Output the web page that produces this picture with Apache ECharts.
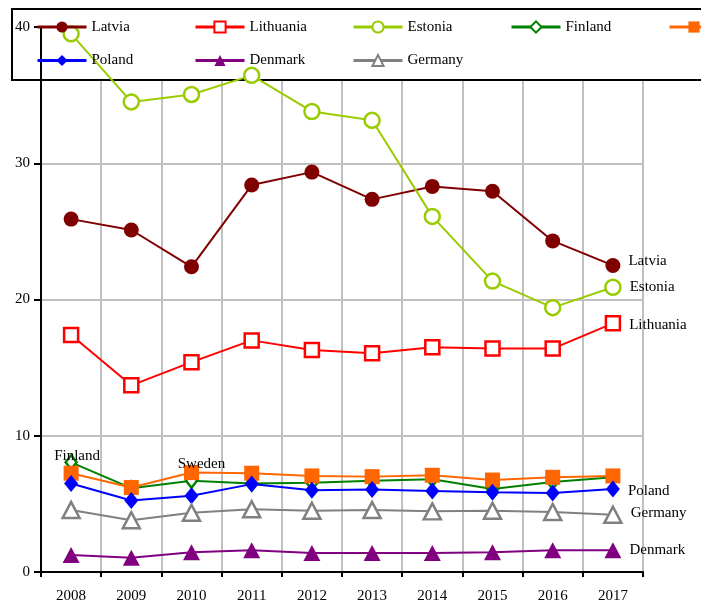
<!DOCTYPE html>
<html>
<head>
<meta charset="utf-8">
<script src="https://cdn.jsdelivr.net/npm/echarts@6/dist/echarts.min.js"></script>
<style>
html,body{margin:0;padding:0;background:#fff;}
#chart{width:701px;height:606px;}
</style>
</head>
<body>
<div id="chart"></div>
<script>
const categories = ['2008','2009','2010','2011','2012','2013','2014','2015','2016','2017'];
const yTicks = [0, 10, 20, 30, 40];
const seriesNames = ['Latvia','Lithuania','Estonia','Finland','Sweden','Poland','Denmark','Germany'];
const latvia    = [25.9, 25.1, 22.4, 28.4, 29.35, 27.35, 28.3, 27.95, 24.3, 22.5];
const lithuania = [17.4, 13.7, 15.4, 17.0, 16.3, 16.05, 16.5, 16.4, 16.4, 18.25];
const estonia   = [39.5, 34.5, 35.05, 36.45, 33.8, 33.15, 26.1, 21.35, 19.4, 20.9];
const finland   = [8.05, 6.15, 6.7, 6.5, 6.55, 6.7, 6.8, 6.1, 6.6, 6.95];
const sweden    = [7.25, 6.2, 7.3, 7.25, 7.05, 7.0, 7.1, 6.75, 6.95, 7.05];
const poland    = [6.5, 5.25, 5.6, 6.45, 6.0, 6.05, 5.95, 5.85, 5.8, 6.1];
const denmark   = [1.25, 1.05, 1.45, 1.6, 1.4, 1.4, 1.4, 1.45, 1.6, 1.6];
const germany   = [4.55, 3.8, 4.35, 4.6, 4.5, 4.55, 4.45, 4.5, 4.4, 4.2];

const FONT = "'Liberation Serif', 'Times New Roman', serif";
const last = categories.length - 1;

function endLabel(name, offset) {
  return {
    show: true, position: 'right', distance: 8, offset: offset || [0, 0],
    color: '#000', fontFamily: FONT, fontSize: 15,
    formatter: p => p.dataIndex === last ? name : ''
  };
}
function pointLabel(name, idx, offset) {
  return {
    show: true, position: 'inside', offset: offset,
    color: '#000', fontFamily: FONT, fontSize: 15,
    formatter: p => p.dataIndex === idx ? name : ''
  };
}

const seriesDefs = [
  {name:'Latvia', data: latvia, color:'#800000', symbol:'circle', size:15, fill:'#800000', label: endLabel('Latvia', [0,-4])},
  {name:'Lithuania', data: lithuania, color:'#ff0000', symbol:'rect', size:14, fill:'#ffffff', label: endLabel('Lithuania', [0,2])},
  {name:'Estonia', data: estonia, color:'#99cc00', symbol:'circle', size:15, fill:'#ffffff', label: endLabel('Estonia', [0,0])},
  {name:'Finland', data: finland, color:'#008000', symbol:'diamond', size:[11,14], fill:'#ffffff', label: pointLabel('Finland', 0, [6,-6])},
  {name:'Sweden', data: sweden, color:'#ff6600', symbol:'rect', size:15, fill:'#ff6600', label: pointLabel('Sweden', 2, [10,-8])},
  {name:'Poland', data: poland, color:'#0000ff', symbol:'diamond', size:[14,17], fill:'#0000ff', label: endLabel('Poland', [0,2])},
  {name:'Denmark', data: denmark, color:'#800080', symbol:'triangle', size:[17,16], fill:'#800080', label: endLabel('Denmark', [0,0])},
  {name:'Germany', data: germany, color:'#808080', symbol:'triangle', size:[17,16], fill:'#ffffff', label: endLabel('Germany', [0,-2])}
];

const legendCols = [36, 194, 352, 510, 668];
const legendRows = [19.5, 53];
const legends = seriesNames.map((n, i) => ({
  data: [n],
  left: legendCols[i < 5 ? i : i - 5],
  top: legendRows[i < 5 ? 0 : 1],
  padding: 0,
  itemWidth: 49,
  itemHeight: 14,
  selectedMode: false,
  lineStyle: {width: 3},
  textStyle: {fontFamily: FONT, fontSize: 15, color: '#000'}
}));

const chart = echarts.init(document.getElementById('chart'), null, {renderer: 'canvas'});
chart.setOption({
  animation: false,
  backgroundColor: '#ffffff',
  textStyle: {fontFamily: FONT},
  legend: legends,
  graphic: [{
    type: 'rect', z: 1,
    shape: {x: 12, y: 9, width: 720, height: 71},
    style: {fill: '#ffffff', stroke: '#000000', lineWidth: 2}
  }],
  grid: {left: 41, right: 58, top: 27, bottom: 34, containLabel: false},
  xAxis: {
    type: 'category', data: categories, boundaryGap: true,
    axisLine: {lineStyle: {color: '#000', width: 2}},
    axisTick: {show: true, inside: false, length: 5, alignWithLabel: false, lineStyle: {color: '#000', width: 2}},
    axisLabel: {color: '#000', fontFamily: FONT, fontSize: 15, margin: 17},
    splitLine: {show: true, lineStyle: {color: '#c0c0c0', width: 2}}
  },
  yAxis: [{
    type: 'value', min: yTicks[0], max: yTicks[yTicks.length-1], interval: 10,
    axisLine: {show: false}, axisTick: {show: false}, axisLabel: {show: false},
    splitLine: {show: true, lineStyle: {color: '#c0c0c0', width: 2}}
  }, {
    type: 'value', min: yTicks[0], max: yTicks[yTicks.length-1], interval: 10, position: 'left', z: 3,
    axisLine: {show: true, lineStyle: {color: '#000', width: 2}},
    axisTick: {show: true, inside: false, length: 7, lineStyle: {color: '#000', width: 2}},
    axisLabel: {color: '#000', fontFamily: FONT, fontSize: 15, margin: 11},
    splitLine: {show: false}
  }],
  series: seriesDefs.map(s => ({
    name: s.name, type: 'line', data: s.data, yAxisIndex: 0,
    symbol: s.symbol, symbolSize: s.size, showAllSymbol: true,
    lineStyle: {color: s.color, width: 2},
    itemStyle: {color: s.fill, borderColor: s.color, borderWidth: s.fill === '#ffffff' ? 2.5 : 0},
    label: s.label,
    emphasis: {disabled: true}
  }))
});
</script>
</body>
</html>
